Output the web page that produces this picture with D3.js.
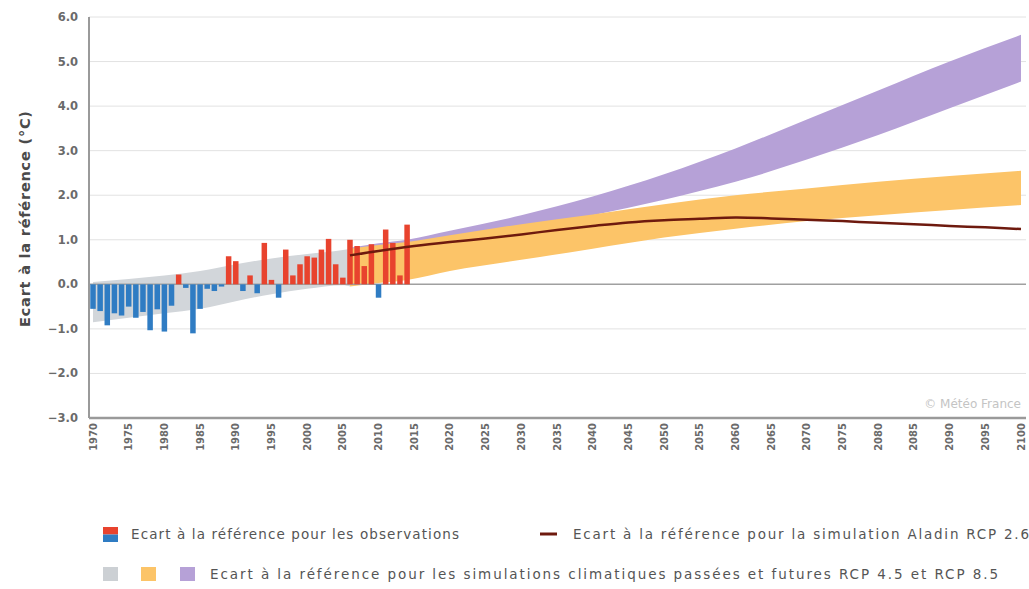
<!DOCTYPE html>
<html>
<head>
<meta charset="utf-8">
<script src="https://cdn.jsdelivr.net/npm/d3@7"></script>
<style>
  body { margin: 0; background: #fff; }
  svg { display: block; font-family: "DejaVu Sans", Verdana, sans-serif; }
</style>
</head>
<body>
<svg id="chart" width="1029" height="589"></svg>
<script>
// observed anomalies (°C) vs reference
const obsYears = [1970, 1971, 1972, 1973, 1974, 1975, 1976, 1977, 1978, 1979,
  1980, 1981, 1982, 1983, 1984, 1985, 1986, 1987, 1988, 1989,
  1990, 1991, 1992, 1993, 1994, 1995, 1996, 1997, 1998, 1999,
  2000, 2001, 2002, 2003, 2004, 2005, 2006, 2007, 2008, 2009,
  2010, 2011, 2012, 2013, 2014];
const obsValues = [-0.55, -0.6, -0.92, -0.65, -0.7, -0.5, -0.75, -0.62, -1.03, -0.56,
  -1.06, -0.48, 0.22, -0.08, -1.1, -0.55, -0.1, -0.15, -0.05, 0.63,
  0.52, -0.15, 0.2, -0.2, 0.93, 0.1, -0.3, 0.78, 0.2, 0.45,
  0.63, 0.6, 0.78, 1.02, 0.45, 0.15, 1.0, 0.86, 0.41, 0.9,
  -0.3, 1.23, 0.93, 0.2, 1.34];

// past simulations (grey envelope)
const histYears = [1970, 1975, 1980, 1985, 1990, 1995, 2000, 2005, 2006];
const histLow = [-0.85, -0.75, -0.65, -0.55, -0.38, -0.22, -0.1, -0.02, -0.05];
const histHigh = [0.05, 0.12, 0.2, 0.3, 0.45, 0.58, 0.68, 0.77, 0.8];

// future scenarios
const scenYears = [2006, 2010, 2014, 2020, 2030, 2040, 2050, 2060, 2070, 2080, 2090, 2100];
const rcp45Low = [-0.05, 0.03, 0.1, 0.3, 0.55, 0.8, 1.05, 1.25, 1.42, 1.55, 1.67, 1.78];
const rcp45High = [0.8, 0.88, 0.95, 1.1, 1.35, 1.57, 1.8, 2.0, 2.15, 2.3, 2.43, 2.55];
const rcp85Low = [0.7, 0.8, 0.88, 1.0, 1.25, 1.55, 1.9, 2.3, 2.8, 3.35, 3.95, 4.55];
const rcp85High = [0.82, 0.92, 1.0, 1.2, 1.55, 1.97, 2.47, 3.05, 3.7, 4.35, 5.0, 5.6];

// Aladin RCP 2.6
const aladinYears = [2006, 2010, 2015, 2020, 2025, 2030, 2035, 2040, 2045, 2050,
  2055, 2060, 2065, 2070, 2075, 2080, 2085, 2090, 2095, 2100];
const aladinValues = [0.65, 0.75, 0.86, 0.95, 1.03, 1.12, 1.22, 1.31, 1.39, 1.44,
  1.47, 1.5, 1.48, 1.45, 1.42, 1.38, 1.35, 1.31, 1.28, 1.24];

const yTicks = [-3, -2, -1, 0, 1, 2, 3, 4, 5, 6];
const xTicks = [1970, 1975, 1980, 1985, 1990, 1995, 2000, 2005, 2010, 2015, 2020,
  2025, 2030, 2035, 2040, 2045, 2050, 2055, 2060, 2065, 2070, 2075, 2080,
  2085, 2090, 2095, 2100];

const svg = d3.select("#chart");

const x = d3.scaleLinear().domain([1970, 2100]).range([93, 1021]);
const y = d3.scaleLinear().domain([-3, 6]).range([418, 17]);
const plotLeft = 89, plotRight = 1026;

// grid
svg.append("g")
  .selectAll("line")
  .data(yTicks.filter(d => d !== 0 && d !== -3))
  .join("line")
  .attr("x1", plotLeft).attr("x2", plotRight)
  .attr("y1", d => y(d)).attr("y2", d => y(d))
  .attr("stroke", "#e2e2e2").attr("stroke-width", 1);

const area = (xs, lo, hi) => d3.area()
  .x((d, i) => x(xs[i]))
  .y0((d, i) => y(lo[i]))
  .y1((d, i) => y(hi[i]))
  .curve(d3.curveMonotoneX)(xs);

svg.append("path").attr("d", area(histYears, histLow, histHigh)).attr("fill", "#d2d6da");
svg.append("path").attr("d", area(scenYears, rcp85Low, rcp85High)).attr("fill", "#b6a1d7");
svg.append("path").attr("d", area(scenYears, rcp45Low, rcp45High)).attr("fill", "#fcc468");

// zero line
svg.append("line")
  .attr("x1", plotLeft).attr("x2", plotRight)
  .attr("y1", y(0)).attr("y2", y(0))
  .attr("stroke", "#a0a0a0").attr("stroke-width", 1.5);

// observation bars
const barW = 5.5;
svg.append("g")
  .selectAll("rect")
  .data(obsValues)
  .join("rect")
  .attr("x", (d, i) => x(obsYears[i]) - barW / 2)
  .attr("width", barW)
  .attr("y", d => y(Math.max(0, d)))
  .attr("height", d => Math.abs(y(d) - y(0)))
  .attr("fill", d => d >= 0 ? "#e8432e" : "#2f7cc3");

// Aladin line
svg.append("path")
  .datum(aladinValues)
  .attr("d", d3.line()
    .x((d, i) => x(aladinYears[i]))
    .y(d => y(d))
    .curve(d3.curveCatmullRom))
  .attr("fill", "none")
  .attr("stroke", "#6e1a0e")
  .attr("stroke-width", 2.5);

// axes lines
svg.append("line")
  .attr("x1", plotLeft).attr("x2", plotLeft)
  .attr("y1", y(6)).attr("y2", y(-3))
  .attr("stroke", "#9a9a9a").attr("stroke-width", 2);
svg.append("line")
  .attr("x1", plotLeft).attr("x2", plotRight)
  .attr("y1", y(-3)).attr("y2", y(-3))
  .attr("stroke", "#9a9a9a").attr("stroke-width", 2.5);

// y tick labels
svg.append("g")
  .selectAll("text")
  .data(yTicks)
  .join("text")
  .attr("x", 78)
  .attr("y", d => y(d))
  .attr("dy", "0.35em")
  .attr("text-anchor", "end")
  .attr("font-size", 11.5)
  .attr("font-weight", "bold")
  .attr("fill", "#6a6a6a")
  .text(d => d3.format(".1f")(d));

// x tick labels (vertical)
svg.append("g")
  .selectAll("text")
  .data(xTicks)
  .join("text")
  .attr("transform", d => `translate(${x(d)},423) rotate(-90)`)
  .attr("dy", "0.35em")
  .attr("text-anchor", "end")
  .attr("font-size", 10)
  .attr("font-weight", "bold")
  .attr("fill", "#6a6a6a")
  .text(d => d);

// y title
svg.append("text")
  .attr("transform", "translate(25,219) rotate(-90)")
  .attr("dy", "0.35em")
  .attr("text-anchor", "middle")
  .attr("font-size", 14.5)
  .attr("font-weight", "bold")
  .attr("fill", "#4a4a4a")
  .attr("textLength", 216)
  .attr("lengthAdjust", "spacing")
  .text("Ecart à la référence (°C)");

// watermark
svg.append("text")
  .attr("x", 1021).attr("y", 408)
  .attr("text-anchor", "end")
  .attr("font-size", 12)
  .attr("fill", "#c4c4c4")
  .text("© Météo France");

// legend
const lg = svg.append("g").attr("font-size", 13.5).attr("fill", "#555");
lg.append("rect").attr("x", 103).attr("y", 527).attr("width", 15).attr("height", 7.5).attr("fill", "#e8432e");
lg.append("rect").attr("x", 103).attr("y", 534.5).attr("width", 15).attr("height", 7.5).attr("fill", "#2f7cc3");
lg.append("text").attr("x", 131).attr("y", 539)
  .attr("textLength", 328).attr("lengthAdjust", "spacing")
  .text("Ecart à la référence pour les observations");
lg.append("line").attr("x1", 540).attr("x2", 557).attr("y1", 534).attr("y2", 534)
  .attr("stroke", "#6e1a0e").attr("stroke-width", 3);
lg.append("text").attr("x", 573).attr("y", 539)
  .attr("textLength", 456).attr("lengthAdjust", "spacing")
  .text("Ecart à la référence pour la simulation Aladin RCP 2.6");

const swatches = ["#ccd0d4", "#fcc468", "#b6a1d7"];
lg.selectAll(".sw")
  .data(swatches)
  .join("rect")
  .attr("class", "sw")
  .attr("x", (d, i) => [103, 141, 180][i])
  .attr("y", 567).attr("width", 15).attr("height", 14)
  .attr("fill", d => d);
lg.append("text").attr("x", 210).attr("y", 579)
  .attr("textLength", 788).attr("lengthAdjust", "spacing")
  .text("Ecart à la référence pour les simulations climatiques passées et futures RCP 4.5 et RCP 8.5");
</script>
</body>
</html>
